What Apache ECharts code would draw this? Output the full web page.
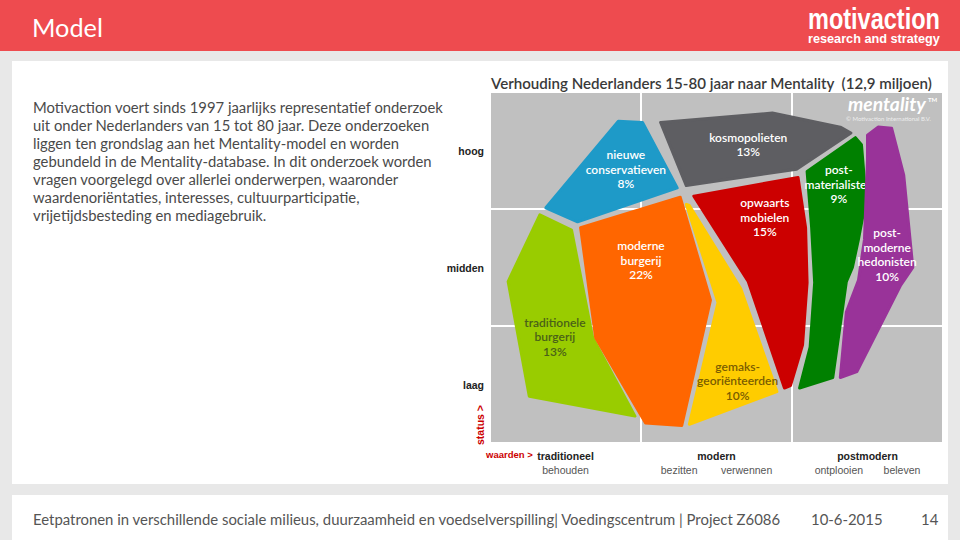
<!DOCTYPE html>
<html>
<head>
<meta charset="utf-8">
<script src="https://cdn.jsdelivr.net/npm/echarts@6/dist/echarts.min.js"></script>
<style>
  html, body { margin: 0; padding: 0; background: #e8e8e8; }
  #chart { width: 960px; height: 540px; }
</style>
</head>
<body>
<div id="chart"></div>
<script>
// kolommen (waarden) en rijen (status)
var columnLabels = ['traditioneel', 'modern', 'postmodern']
var columnSubLabels = ['behouden', 'bezitten        verwennen', 'ontplooien       beleven']
var rowLabels = ['laag', 'midden', 'hoog']

// segmenten van het Mentality-model
var segmentNames = ['traditionele\nburgerij', 'nieuwe\nconservatieven', 'moderne\nburgerij', 'kosmopolieten',
  'gemaks-\ngeoriënteerden', 'opwaarts\nmobielen', 'post-\nmaterialisten', 'post-\nmoderne\nhedonisten']
var segmentShares = [13, 8, 22, 13, 10, 15, 9, 10]
var segmentColors = ['#99cc00', '#1e9ac8', '#ff6600', '#5e5e62', '#ffcc00', '#cc0000', '#008000', '#993399']
var labelColors = ['#4a6118', '#ffffff', '#ffffff', '#ffffff', '#7a5c00', '#ffffff', '#ffffff', '#ffffff']

// hoekpunten per segment in modelcoordinaten (x: waarden 0-3, y: status 0-3)
var traditioneleBurgerij = [[0.33, 1.95], [0.54, 1.82], [0.68, 0.90], [0.96, 0.23], [0.26, 0.40], [0.12, 1.38]]
var nieuweConservatieven = [[0.85, 2.75], [1.01, 2.74], [1.24, 2.18], [0.58, 1.89], [0.37, 2.01]]
var moderneBurgerij = [[0.60, 1.84], [1.26, 2.10], [1.46, 1.22], [1.27, 0.15], [1.03, 0.17], [0.70, 0.90]]
var kosmopolieten = [[1.13, 2.74], [1.87, 2.82], [2.32, 2.70], [2.39, 2.65], [2.03, 2.34], [1.30, 2.20]]
var gemaksgeorienteerden = [[1.30, 2.04], [1.32, 2.03], [1.66, 1.32], [1.90, 0.44], [1.32, 0.16], [1.51, 1.20]]
var opwaartsMobielen = [[1.35, 2.11], [2.04, 2.27], [2.09, 1.84], [2.10, 1.37], [2.07, 0.84], [1.99, 0.49], [1.95, 0.47], [1.71, 1.38]]
var postmaterialisten = [[2.10, 2.32], [2.42, 2.61], [2.46, 2.55], [2.49, 2.08], [2.44, 1.74], [2.40, 1.50], [2.36, 1.38],
  [2.27, 0.56], [2.05, 0.47], [2.12, 0.82], [2.15, 1.37], [2.13, 1.84]]
var postmoderneHedonisten = [[2.50, 2.63], [2.57, 2.70], [2.66, 2.69], [2.74, 2.29], [2.80, 1.50], [2.72, 1.35], [2.43, 0.61],
  [2.32, 0.56], [2.36, 1.12], [2.44, 1.39], [2.48, 1.74], [2.50, 2.42]]
var segmentShapes = [traditioneleBurgerij, nieuweConservatieven, moderneBurgerij, kosmopolieten,
  gemaksgeorienteerden, opwaartsMobielen, postmaterialisten, postmoderneHedonisten]
// plaats van het label per segment
var labelAnchors = [[0.43, 0.91], [0.90, 2.34], [1.00, 1.56], [1.71, 2.55], [1.64, 0.53], [1.82, 1.93], [2.31, 2.21], [2.63, 1.61]]

var bodyText = 'Motivaction voert sinds 1997 jaarlijks representatief onderzoek\n' +
  'uit onder Nederlanders van 15 tot 80 jaar. Deze onderzoeken\n' +
  'liggen ten grondslag aan het Mentality-model en worden\n' +
  'gebundeld in de Mentality-database. In dit onderzoek worden\n' +
  'vragen voorgelegd over allerlei onderwerpen, waaronder\n' +
  'waardenoriëntaties, interesses, cultuurparticipatie,\n' +
  'vrijetijdsbesteding en mediagebruik.'
var footerText = 'Eetpatronen in verschillende sociale milieus, duurzaamheid en voedselverspilling| Voedingscentrum | Project Z6086'

// lettergroottes passend maken op de breedte in het origineel
var ctx = document.createElement('canvas').getContext('2d')
function textWidth(text, font) { ctx.font = font; return ctx.measureText(text).width }
var font = 'Lato'
var narrow = 'Liberation Sans'
function fit(text, weight, family, target) {
  return Math.round(200 * target / textWidth(text, weight + ' 20px "' + family + '"')) / 10
}

var bodySize = fit('Motivaction voert sinds 1997 jaarlijks representatief onderzoek', 'normal', font, 410)
var footSize = fit(footerText, 'normal', font, 750)
var titleSize = fit('Verhouding Nederlanders 15-80 jaar naar Mentality  (12,9 miljoen)', '600', font, 442)
// logo smal maken met scaleX
var logoWidth = textWidth('motivaction', 'bold 30px "' + narrow + '"')

var chart = echarts.init(document.getElementById('chart'), null, { renderer: 'svg' })

function renderSegment(params, api) {
  var i = params.dataIndex
  var pts = segmentShapes[i].map(function (p) { return api.coord(p) })
  var c = api.coord(labelAnchors[i])
  return {
    type: 'group',
    children: [
      {
        type: 'polygon',
        shape: { points: pts },
        style: { fill: segmentColors[i], stroke: segmentColors[i], lineWidth: 3, lineJoin: 'round' }
      },
      {
        type: 'text',
        style: {
          text: segmentNames[i] + '\n' + segmentShares[i] + '%',
          x: c[0], y: c[1],
          fill: labelColors[i],
          font: '600 12px ' + font,
          lineHeight: 14.5,
          align: 'center', verticalAlign: 'middle',
          textAlign: 'center', textVerticalAlign: 'middle'
        }
      }
    ]
  }
}

chart.setOption({
  backgroundColor: '#e8e8e8',
  animation: false,
  title: {
    text: 'Verhouding Nederlanders 15-80 jaar naar Mentality  (12,9 miljoen)',
    left: 486, top: 70,
    textStyle: { color: '#3a3a3a', fontSize: titleSize, fontWeight: 600, fontFamily: font }
  },
  graphic: [
    { type: 'rect', left: 0, top: 0, shape: { width: 960, height: 51 }, style: { fill: '#ee4b4f' }, z: -10 },
    { type: 'rect', left: 12, top: 61, shape: { width: 936, height: 423 }, style: { fill: '#ffffff' }, z: -10 },
    { type: 'rect', left: 12, top: 495, shape: { width: 936, height: 45 }, style: { fill: '#ffffff' }, z: -10 },
    { type: 'text', left: 32, top: 14, style: { text: 'Model', fill: '#ffffff', font: fit('Model', 'normal', font, 71) + 'px ' + font } },
    { type: 'text', x: 808, y: 4, scaleX: 132 / logoWidth, style: { text: 'motivaction', fill: '#ffffff', font: 'bold 30px "' + narrow + '"' } },
    { type: 'text', left: 808, top: 32, style: { text: 'research and strategy', fill: '#ffffff', font: 'bold ' + fit('research and strategy', 'bold', narrow, 132) + 'px "' + narrow + '"' } },
    { type: 'text', left: 33, top: 98, style: { text: bodyText, fill: '#4a4a4a', font: bodySize + 'px ' + font, lineHeight: 18 } },
    { type: 'text', left: 33, top: 511, style: { text: footerText, fill: '#555555', font: footSize + 'px ' + font } },
    { type: 'text', left: 811, top: 511, style: { text: '10-6-2015', fill: '#555555', font: footSize + 'px ' + font } },
    { type: 'text', left: 921, top: 511, style: { text: '14', fill: '#555555', font: footSize + 'px ' + font } },
    { type: 'text', left: 848, top: 94, z: 10, style: { text: 'mentality', fill: '#ffffff', font: 'italic bold ' + fit('mentality', 'italic bold', font, 78) + 'px ' + font } },
    { type: 'text', left: 928, top: 96, z: 10, style: { text: 'TM', fill: '#ffffff', font: 'bold 6px ' + font } },
    { type: 'text', left: 846, top: 115, z: 10, style: { text: '© Motivaction International B.V.', fill: '#eeeeee', font: '6px ' + font } },
    { type: 'text', left: 486, top: 449, style: { text: 'waarden >', fill: '#cc0000', font: 'bold 9.5px "' + narrow + '"' } },
    { type: 'text', left: 474, top: 405, rotation: Math.PI / 2, style: { text: 'status >', fill: '#cc0000', font: 'bold 10.5px "' + narrow + '"' } }
  ],
  grid: {
    left: 490, top: 92, width: 453, height: 351,
    show: true, backgroundColor: '#c0c0c0', borderWidth: 0
  },
  xAxis: [
    {
      type: 'category', data: columnLabels,
      axisLine: { show: false }, axisTick: { show: false },
      splitLine: { show: true, lineStyle: { color: '#ffffff', width: 2 } },
      axisLabel: {
        interval: 0, margin: 6,
        formatter: function (v, i) { return '{a|' + v + '}\n{b|' + columnSubLabels[i] + '}' },
        rich: {
          a: { fontFamily: narrow, fontWeight: 'bold', fontSize: 10.5, color: '#222222', lineHeight: 14 },
          b: { fontFamily: narrow, fontSize: 10.5, color: '#555555', lineHeight: 14 }
        }
      }
    },
    { type: 'value', min: 0, max: 3, show: false }
  ],
  yAxis: [
    {
      type: 'category', data: rowLabels,
      axisLine: { show: false }, axisTick: { show: false },
      splitLine: { show: true, lineStyle: { color: '#ffffff', width: 2 } },
      axisLabel: { interval: 0, margin: 6, fontFamily: narrow, fontWeight: 'bold', fontSize: 10.5, color: '#222222' }
    },
    { type: 'value', min: 0, max: 3, show: false }
  ],
  series: [
    {
      type: 'custom',
      xAxisIndex: 1, yAxisIndex: 1,
      renderItem: renderSegment,
      data: segmentNames.map(function (n, i) { return [i] })
    }
  ]
})
</script>
</body>
</html>
